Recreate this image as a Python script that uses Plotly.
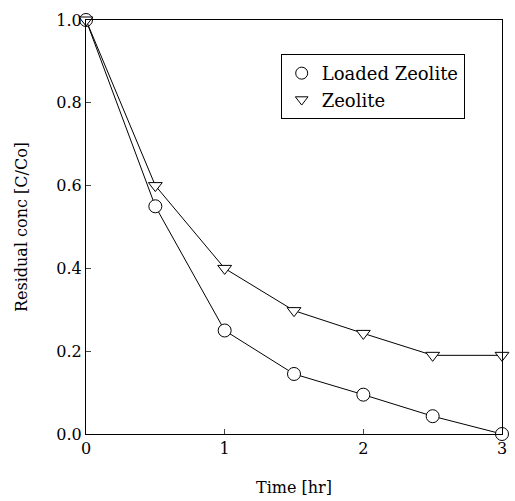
import plotly.graph_objects as go

time_hr = [0, 0.5, 1, 1.5, 2, 2.5, 3]
loaded_zeolite = [1.0, 0.55, 0.25, 0.145, 0.095, 0.043, 0.0]
zeolite = [1.0, 0.60, 0.40, 0.298, 0.243, 0.19, 0.19]
x_ticks = [0, 1, 2, 3]
y_ticks = [0.0, 0.2, 0.4, 0.6, 0.8, 1.0]
y_tick_labels = ["0.0", "0.2", "0.4", "0.6", "0.8", "1.0"]

FONT = "DejaVu Serif"

fig = go.Figure()
fig.add_trace(go.Scatter(
    x=time_hr, y=loaded_zeolite, mode="lines+markers", name="Loaded Zeolite",
    line=dict(color="black", width=1),
    marker=dict(symbol="circle", size=13, color="white", line=dict(color="black", width=1)),
    showlegend=False, cliponaxis=False))
fig.add_trace(go.Scatter(
    x=time_hr, y=zeolite, mode="lines+markers", name="Zeolite",
    line=dict(color="black", width=1),
    marker=dict(symbol="triangle-down", size=12, color="white", line=dict(color="black", width=1)),
    showlegend=False, cliponaxis=False))
# legend entries (symbol only)
fig.add_trace(go.Scatter(
    x=[None], y=[None], mode="markers", name="Loaded Zeolite",
    marker=dict(symbol="circle-open", size=12, color="black", line=dict(width=1))))
fig.add_trace(go.Scatter(
    x=[None], y=[None], mode="markers", name="Zeolite",
    marker=dict(symbol="triangle-down-open", size=11, color="black", line=dict(width=1))))

fig.update_layout(
    width=515, height=501,
    margin=dict(l=86, r=8, t=20, b=64),
    plot_bgcolor="white", paper_bgcolor="white",
    font=dict(family=FONT, size=16, color="black"),
    legend=dict(x=0.468, y=0.918, xanchor="left", yanchor="top",
                bordercolor="black", borderwidth=1, bgcolor="white",
                font=dict(family=FONT, size=18, color="black"),
                tracegroupgap=0, itemwidth=30),
    xaxis=dict(range=[0, 3], tickvals=x_ticks, ticks="inside", ticklen=5,
               showline=True, linecolor="black", linewidth=1, mirror=True,
               showgrid=False, zeroline=False,
               tickfont=dict(family=FONT, size=16),
               title=dict(text="Time [hr]", standoff=24, font=dict(family=FONT, size=16))),
    yaxis=dict(range=[0, 1.0], tickvals=y_ticks, ticktext=y_tick_labels,
               ticks="inside", ticklen=5,
               showline=True, linecolor="black", linewidth=1, mirror=True,
               showgrid=False, zeroline=False,
               tickfont=dict(family=FONT, size=16),
               title=dict(text="Residual conc [C/Co]", standoff=24, font=dict(family=FONT, size=16))),
)

fig.write_html("out.html")
